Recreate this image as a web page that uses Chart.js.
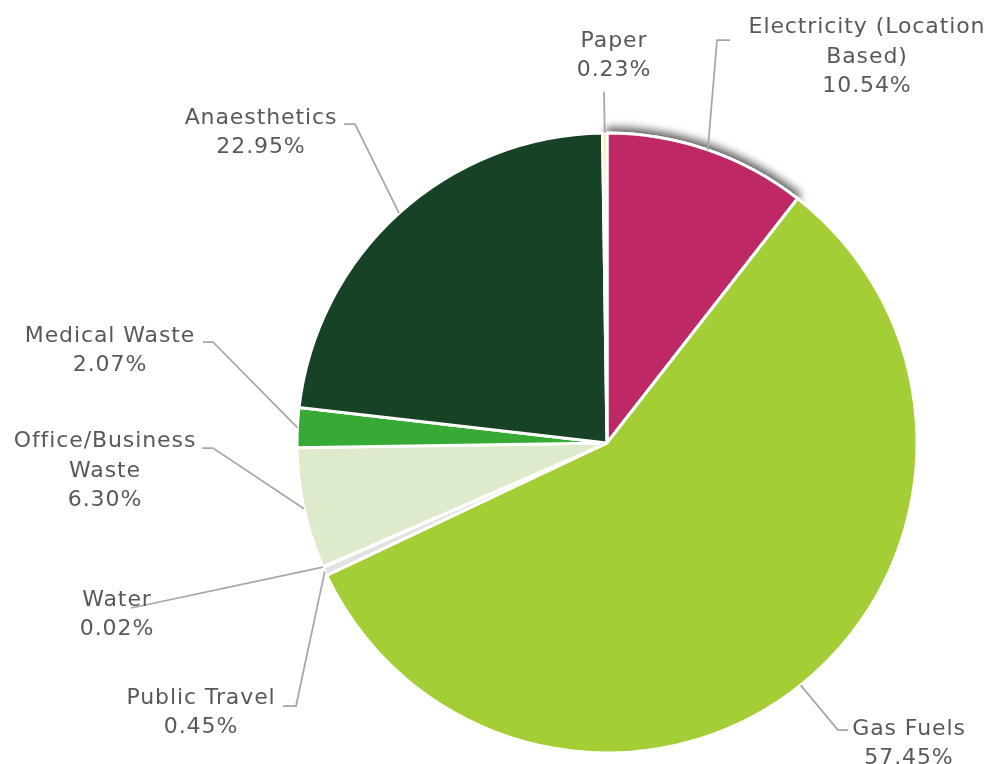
<!DOCTYPE html>
<html>
<head>
<meta charset="utf-8">
<script src="https://cdn.jsdelivr.net/npm/chart.js@4.4.0/dist/chart.umd.min.js"></script>
<style>
  html, body { margin: 0; padding: 0; background: #ffffff; }
  #wrap { width: 987px; height: 764px; position: relative; }
</style>
</head>
<body>
<div id="wrap"><canvas id="grafico" width="987" height="764"></canvas></div>
<script>
// datos del grafico
const categorias = [
  ['Electricity (Location', 'Based)'],
  ['Gas Fuels'],
  ['Public Travel'],
  ['Water'],
  ['Office/Business', 'Waste'],
  ['Medical Waste'],
  ['Anaesthetics'],
  ['Paper']
];
const porcentajes = [10.54, 57.45, 0.45, 0.02, 6.30, 2.07, 22.95, 0.23];
const colores = ['#BE2864', '#A3CE35', '#E2E2E2', '#5B9BD5', '#DDEACB', '#37A935', '#184225', '#FFE699'];

// posicion de etiquetas, relativa al centro del pastel (codo, fin de linea, centro del texto)
const etiquetas = [
  { codo: [110, -403], fin: [123, -403], texto: [260, -386] },
  { codo: [231, 287], fin: [241, 287], texto: [302, 301] },
  { codo: [-311, 263], fin: [-324, 263], texto: [-406, 270] },
  { codo: [-476, 165], fin: [-476, 165], texto: [-490, 172] },
  { codo: [-394, 5], fin: [-405, 5], texto: [-502, 28] },
  { codo: [-394, -101], fin: [-404, -101], texto: [-497, -92] },
  { codo: [-252, -319], fin: [-263, -319], texto: [-346, -310] },
  { codo: [-3, -351], fin: [-3, -351], texto: [7, -387] }
];

const fuente = '22px "DejaVu Sans"';
const altoLinea = 29.5;

const sombraElectricidad = {
  id: 'sombraElectricidad',
  beforeDatasetsDraw(chart) {
    const arco = chart.getDatasetMeta(0).data[0];
    const ctx = chart.ctx;
    ctx.save();
    ctx.shadowColor = 'rgba(0,0,0,0.7)';
    ctx.shadowBlur = 10;
    ctx.shadowOffsetX = 1;
    ctx.shadowOffsetY = -3;
    arco.draw(ctx);
    ctx.restore();
  }
};

const etiquetasPastel = {
  id: 'etiquetasPastel',
  afterDatasetsDraw(chart) {
    const ctx = chart.ctx;
    const meta = chart.getDatasetMeta(0);
    ctx.save();
    meta.data.forEach((arco, i) => {
      const p = arco.getProps(['x', 'y', 'startAngle', 'endAngle', 'outerRadius']);
      const medio = (p.startAngle + p.endAngle) / 2;
      const ax = p.x + Math.cos(medio) * p.outerRadius;
      const ay = p.y + Math.sin(medio) * p.outerRadius;
      const lay = etiquetas[i];

      ctx.strokeStyle = '#A6A6A6';
      ctx.lineWidth = 1.75;
      ctx.beginPath();
      ctx.moveTo(ax, ay);
      ctx.lineTo(p.x + lay.codo[0], p.y + lay.codo[1]);
      ctx.lineTo(p.x + lay.fin[0], p.y + lay.fin[1]);
      ctx.stroke();

      const lineas = categorias[i].concat([porcentajes[i].toFixed(2) + '%']);
      ctx.font = fuente;
      ctx.letterSpacing = '0.9px';
      ctx.fillStyle = '#595959';
      ctx.textAlign = 'center';
      ctx.textBaseline = 'middle';
      const y0 = p.y + lay.texto[1] - (lineas.length - 1) * altoLinea / 2;
      lineas.forEach((t, k) => {
        ctx.fillText(t, p.x + lay.texto[0], y0 + k * altoLinea);
      });
    });
    ctx.restore();
  }
};

const ctx = document.getElementById('grafico').getContext('2d');
new Chart(ctx, {
  type: 'pie',
  data: {
    labels: categorias.map(c => c.join(' ')),
    datasets: [{
      data: porcentajes,
      backgroundColor: colores,
      borderColor: '#ffffff',
      borderWidth: 3
    }]
  },
  options: {
    responsive: false,
    animation: false,
    layout: { padding: { top: 131.5, bottom: 9.5, left: 295.5, right: 68.5 } },
    plugins: {
      legend: { display: false },
      tooltip: { enabled: false }
    }
  },
  plugins: [sombraElectricidad, etiquetasPastel]
});
</script>
</body>
</html>
